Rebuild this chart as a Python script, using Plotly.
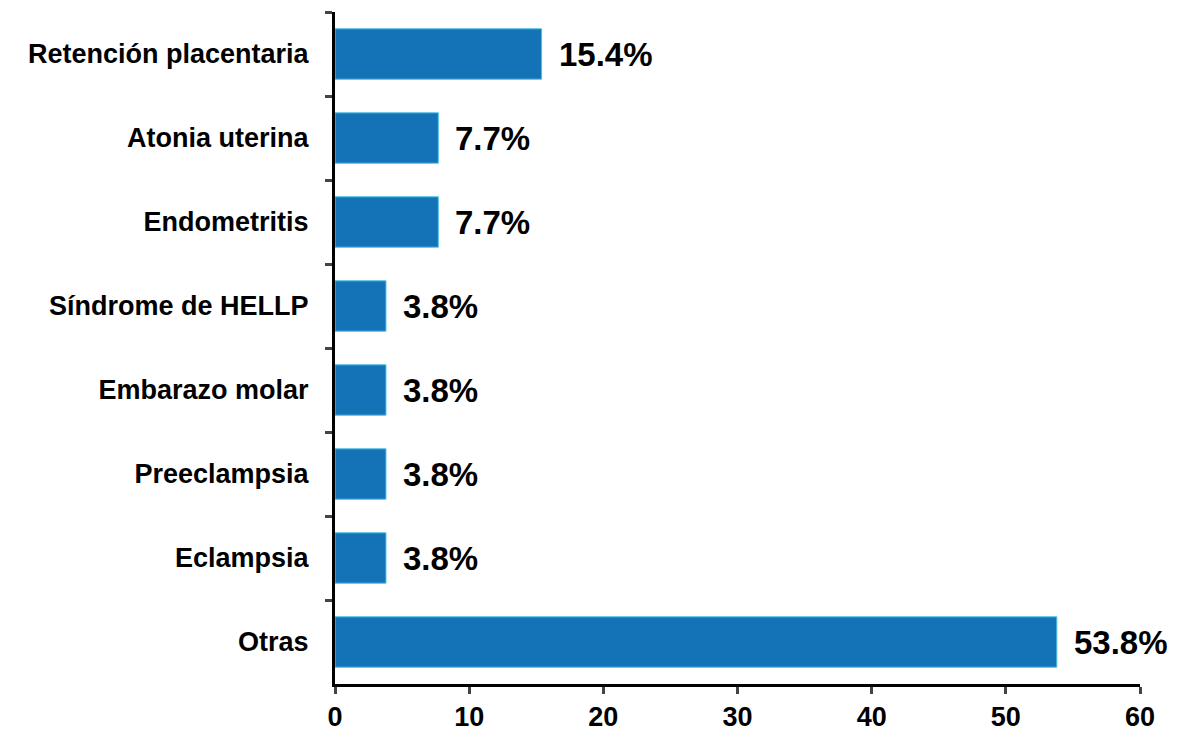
import plotly.graph_objects as go

categories = ["Retención placentaria", "Atonia uterina", "Endometritis", "Síndrome de HELLP",
              "Embarazo molar", "Preeclampsia", "Eclampsia", "Otras"]
values = [15.4, 7.7, 7.7, 3.8, 3.8, 3.8, 3.8, 53.8]
labels = ["15.4%", "7.7%", "7.7%", "3.8%", "3.8%", "3.8%", "3.8%", "53.8%"]
x_ticks = [0, 10, 20, 30, 40, 50, 60]

FONT = "Liberation Sans, Arial, sans-serif"

fig = go.Figure(go.Bar(
    x=values, y=categories, orientation="h",
    marker=dict(color="#1473B6", line=dict(color="#4FC1E9", width=1)),
    hoverinfo="x+y",
))

for v, c, t in zip(values, categories, labels):
    fig.add_annotation(x=v, y=c, text=t, showarrow=False, xanchor="left", yanchor="middle",
                       xshift=15, font=dict(family=FONT, size=33, color="black", weight="bold"))

# page body adds 8px margin, so the figure is sized to fit the 1183x734 window
fig.update_layout(
    width=1175, height=726,
    margin=dict(l=327, r=43, t=4, b=50),
    plot_bgcolor="white", paper_bgcolor="white",
    bargap=0.4, showlegend=False,
    font=dict(family=FONT, color="black"),
)
fig.update_xaxes(
    range=[0, 60], tickvals=x_ticks, ticks="outside", ticklen=7, tickwidth=3,
    showline=True, linewidth=3, linecolor="black", showgrid=False, zeroline=False,
    automargin=False,
    tickfont=dict(family=FONT, size=27, color="black", weight="bold"),
)
fig.update_yaxes(
    categoryorder="array", categoryarray=categories, autorange="reversed",
    ticks="outside", tickson="boundaries", ticklen=7, tickwidth=3,
    showline=True, linewidth=3, linecolor="black", showgrid=False, zeroline=False,
    automargin=False, ticklabelstandoff=18,
    tickfont=dict(family=FONT, size=27, color="black", weight="bold"),
)

fig.write_html("out.html")
